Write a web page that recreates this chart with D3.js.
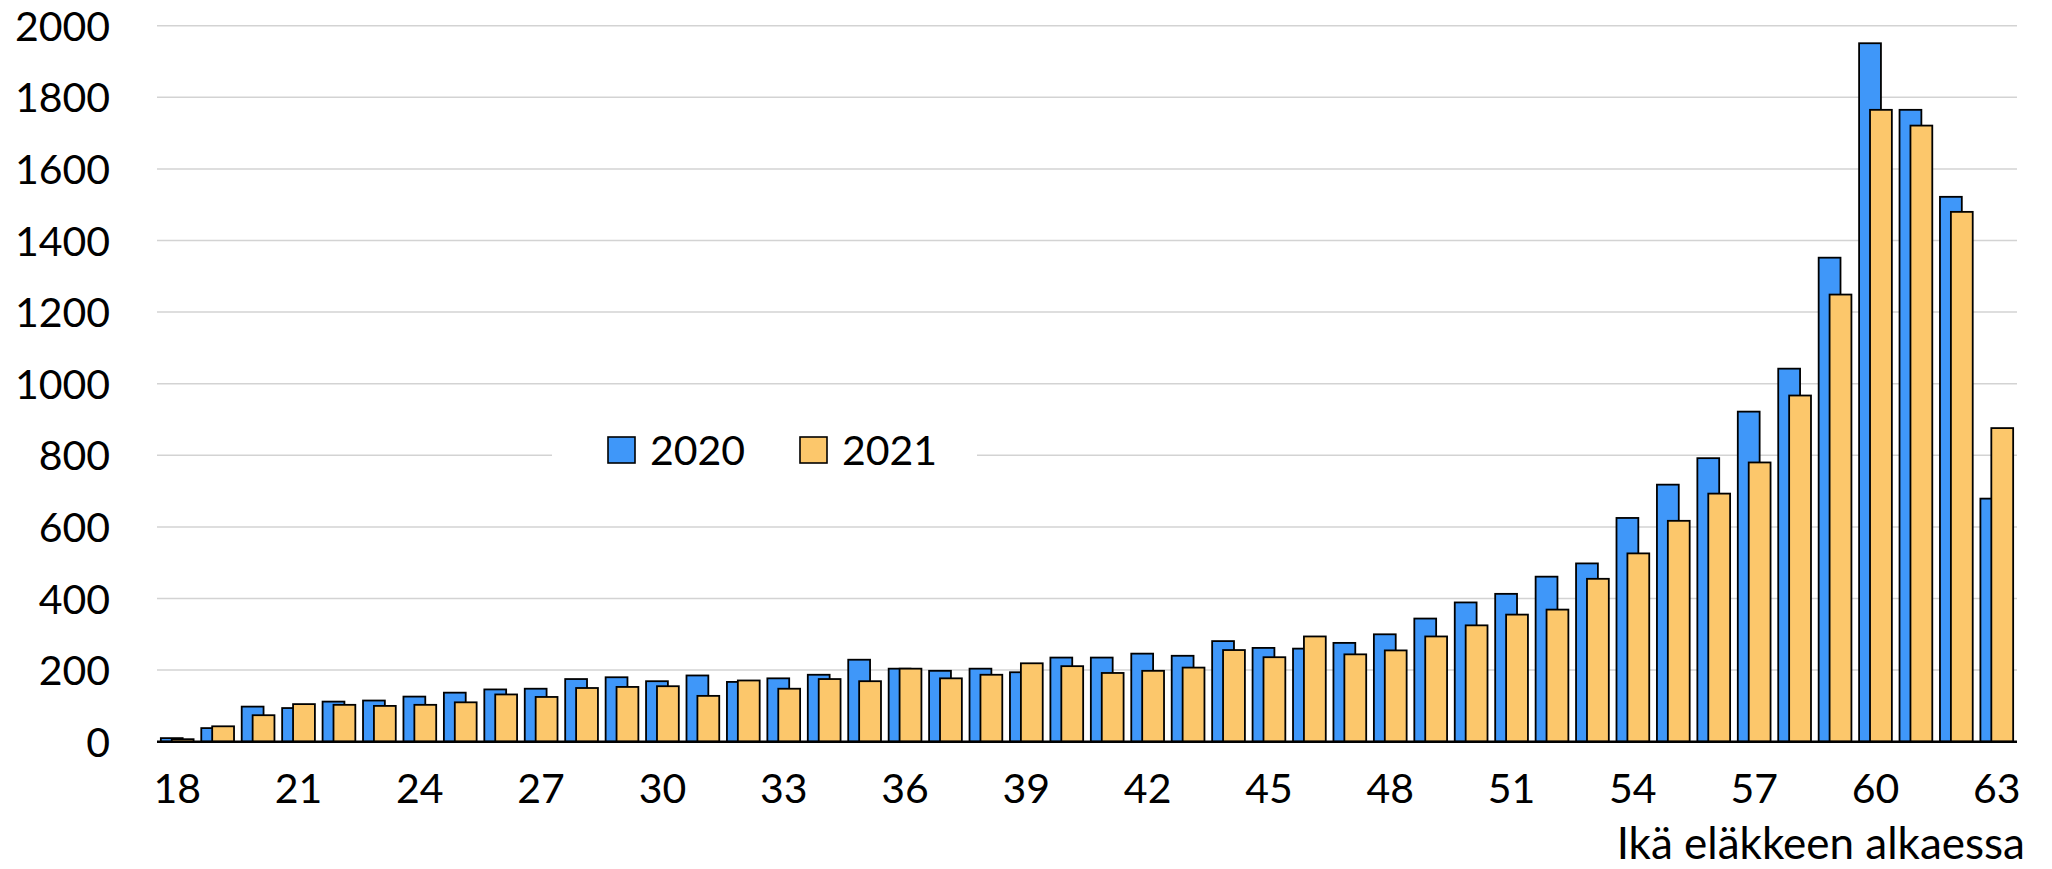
<!DOCTYPE html>
<head>
<meta charset="utf-8">
<style>
  html,body {
    margin: 0;
    background: white;
    font-family: Lato, "Open Sans", sans-serif;
  }
</style>
<script src="https://d3js.org/d3.v7.min.js"></script>
</head>

<body>
<div id="chart"></div>

<script>
// ages (x categories)
var ages = [18,19,20,21,22,23,24,25,26,27,28,29,30,31,32,33,34,35,36,37,38,39,40,
            41,42,43,44,45,46,47,48,49,50,51,52,53,54,55,56,57,58,59,60,61,62,63];

// number of new pensions by age
var values2020 = [10,38,98,94,112,115,126,137,146,148,175,180,169,185,167,177,187,229,204,198,
                  204,194,235,235,246,240,281,262,260,276,300,344,389,413,461,498,625,718,792,922,
                  1042,1352,1951,1765,1522,679];
var values2021 = [7,43,74,105,103,100,103,110,132,125,150,153,155,128,171,148,175,169,204,177,
                  187,219,211,192,198,207,256,236,294,244,255,294,325,355,369,455,526,617,693,780,
                  967,1249,1765,1721,1480,876];

var yTicks = [0,200,400,600,800,1000,1200,1400,1600,1800,2000];
var xTickLabels = [18,21,24,27,30,33,36,39,42,45,48,51,54,57,60,63];
var seriesNames = ["2020", "2021"];
var axisTitle = "Ikä eläkkeen alkaessa";

var colors = { "2020": "#3f97f9", "2021": "#fcc76b" };

// plot area (note: "top" is reserved on window, so use other names)
var W = 2052, H = 869;
var plotLeft = 157, plotRight = 2017, plotTop = 25.7, plotBottom = 741.7;

var svg = d3.select("#chart")
  .append("svg")
    .attr("width", W)
    .attr("height", H);

var x = d3.scaleBand()
  .domain(ages)
  .range([plotLeft, plotRight])
  .paddingInner(0)
  .paddingOuter(0);

var y = d3.scaleLinear()
  .domain([0, 2000])
  .range([plotBottom, plotTop]);

// gridlines
svg.append("g")
  .selectAll("line")
  .data(yTicks.filter(function(d){ return d > 0; }))
  .enter()
  .append("line")
    .attr("x1", plotLeft)
    .attr("x2", plotRight)
    .attr("y1", function(d){ return y(d); })
    .attr("y2", function(d){ return y(d); })
    .style("stroke", "#d3d3d3")
    .style("stroke-width", 1.5);

// y labels
svg.append("g")
  .selectAll("text")
  .data(yTicks)
  .enter()
  .append("text")
    .attr("x", 110)
    .attr("y", function(d){ return y(d) + 15; })
    .attr("text-anchor", "end")
    .attr("font-size", "41px")
    .attr("fill", "black")
    .text(function(d){ return d; });

// bars: overlapping pair, 2021 drawn on top
var bw = x.bandwidth() * 0.54;
var off = bw / 2;

function drawSeries(vals, name, shift) {
  svg.append("g")
    .selectAll("rect")
    .data(ages.map(function(a, i){ return { age: a, value: vals[i] }; }))
    .enter()
    .append("rect")
      .attr("x", function(d){ return x(d.age) + x.bandwidth() / 2 - (bw + off) / 2 + shift; })
      .attr("y", function(d){ return y(d.value); })
      .attr("width", bw)
      .attr("height", function(d){ return plotBottom - y(d.value); })
      .style("fill", colors[name])
      .style("stroke", "black")
      .style("stroke-width", 1.8);
}
drawSeries(values2020, "2020", 0);
drawSeries(values2021, "2021", off);

// baseline
svg.append("line")
  .attr("x1", plotLeft)
  .attr("x2", plotRight)
  .attr("y1", plotBottom)
  .attr("y2", plotBottom)
  .style("stroke", "black")
  .style("stroke-width", 2.5);

// x labels
svg.append("g")
  .selectAll("text")
  .data(xTickLabels)
  .enter()
  .append("text")
    .attr("x", function(d){ return x(d) + x.bandwidth() / 2; })
    .attr("y", 803)
    .attr("text-anchor", "middle")
    .attr("font-size", "41px")
    .attr("fill", "black")
    .text(function(d){ return d; });

// axis title
svg.append("text")
  .attr("x", 2025)
  .attr("y", 859)
  .attr("text-anchor", "end")
  .attr("font-size", "44px")
  .attr("fill", "black")
  .text(axisTitle);

// legend with white box over the gridline
var legend = svg.append("g");
legend.append("rect")
  .attr("x", 552)
  .attr("y", 425)
  .attr("width", 425)
  .attr("height", 60)
  .style("fill", "white");

var legendX = [608, 800];
seriesNames.forEach(function(name, i) {
  legend.append("rect")
    .attr("x", legendX[i])
    .attr("y", 437)
    .attr("width", 27)
    .attr("height", 26)
    .style("fill", colors[name])
    .style("stroke", "black")
    .style("stroke-width", 1.6);
  legend.append("text")
    .attr("x", legendX[i] + 42)
    .attr("y", 465)
    .attr("font-size", "41px")
    .attr("fill", "black")
    .text(name);
});
</script>
</body>
</html>
